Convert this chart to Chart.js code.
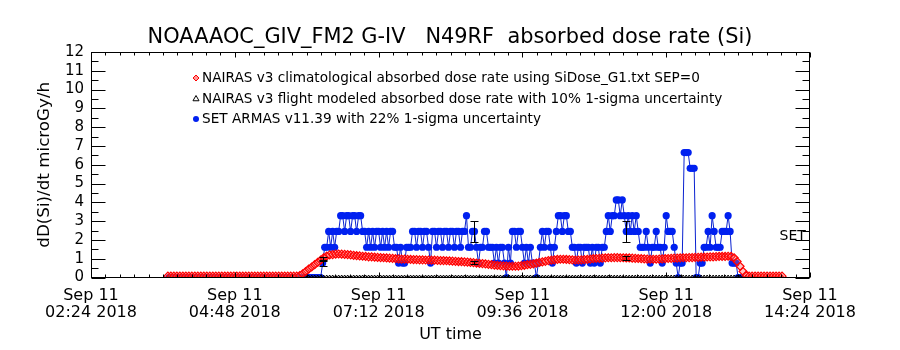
<!DOCTYPE html>
<html><head><meta charset="utf-8">
<script src="https://cdn.jsdelivr.net/npm/chart.js@4.4.1/dist/chart.umd.min.js"></script>
<style>html,body{margin:0;padding:0;background:#fff}canvas{display:block}</style>
</head><body>
<canvas id="c" width="900" height="350"></canvas>
<script>
// ---------------- DATA ----------------
const titleText = 'NOAAAOC_GIV_FM2 G-IV   N49RF  absorbed dose rate (Si)';
const yTitle = 'dD(Si)/dt microGy/h';
const xTitle = 'UT time';
const sideLabel = 'SET';
// x axis: minutes after Sep 11 02:24 UT
const xTickValues = [0, 144, 288, 432, 576, 720];
const xTickLabels = [
  ['Sep 11', '02:24 2018'], ['Sep 11', '04:48 2018'], ['Sep 11', '07:12 2018'],
  ['Sep 11', '09:36 2018'], ['Sep 11', '12:00 2018'], ['Sep 11', '14:24 2018']
];
const yMin = 0, yMax = 12;
const seriesLabels = [
  'NAIRAS v3 climatological absorbed dose rate using SiDose_G1.txt SEP=0',
  'NAIRAS v3 flight modeled absorbed dose rate with 10% 1-sigma uncertainty',
  'SET ARMAS v11.39 with 22% 1-sigma uncertainty'
];
// NAIRAS climatological (red), one value every 3 min starting at minute 77
const redStart = 77, redStep = 3;
const redValues = [
  0.07,0.07,0.07,0.07,0.07,0.07,0.07,0.07,0.07,0.07,0.07,
  0.07,0.07,0.07,0.07,0.07,0.07,0.07,0.07,0.07,0.07,0.07,
  0.07,0.07,0.07,0.07,0.07,0.07,0.07,0.07,0.07,0.07,0.07,
  0.07,0.07,0.07,0.07,0.07,0.07,0.07,0.07,0.07,0.07,0.07,
  0.10,0.20,0.32,0.45,0.56,0.68,0.80,0.92,1.05,1.14,1.20,
  1.22,1.24,1.25,1.24,1.23,1.22,1.20,1.18,1.16,
  1.15,1.13,1.12,1.10,1.10,1.08,1.07,1.06,1.05,1.04,1.03,1.02,1.00,0.99,
  0.98,0.98,0.97,0.96,0.95,0.95,0.94,0.94,0.93,0.93,0.92,0.92,0.91,0.90,0.90,0.89,0.88,
  0.87,0.86,0.85,0.84,0.83,0.82,0.80,0.79,0.77,0.75,0.74,
  0.72,0.70,0.68,0.66,0.64,0.63,0.62,0.61,0.60,0.60,
  0.60,0.61,0.63,0.65,0.68,0.70,0.73,0.76,0.80,
  0.83,0.86,0.90,0.92,0.94,0.96,0.97,0.97,0.96,0.95,0.94,
  0.93,0.93,0.94,0.95,0.96,0.98,1.00,1.01,1.02,1.03,
  1.04,1.05,1.05,1.06,1.06,1.05,1.05,1.04,1.04,1.03,1.02,1.01,1.00,0.99,0.98,
  0.97,0.97,0.97,0.98,0.99,1.00,1.01,1.02,1.03,1.03,1.04,1.05,1.05,1.06,1.06,
  1.07,1.07,1.08,1.08,1.09,1.10,1.10,1.11,1.12,1.12,1.12,
  1.13,1.12,1.05,0.85,0.60,0.32,0.12,
  0.07,0.07,0.07,0.07,0.07,0.07,0.07,0.07,0.07,0.07,0.07,0.07
];
// NAIRAS flight modeled (black), every 3 min starting at minute 77
const blackStart = 77, blackStep = 3;
const blackValues = [
  0,0,0,0,0,0,0,0,0,0,0,0,0,0,0,0,0,0,0,0,0,0,0,0,0,0,0,0,0,0,
  0,0,0,0,0,0,0,0,0,0,0,0,0,0,0,0,0,0,0,0,0,0,0,0,0,0,0,0,0,0,
  0,0,0,0,0,0,0,0,0,0,0,0,0,0,0,0,0,0,0,0,0,0,0,0,0,0,0,0,0,0,
  0,0,0,0,0,0,0,0,0,0,0,0,0,0,0,0,0,0,0,0,0,0,0,0,0,0,0,0,0,0,
  0,0,0,0,0,0,0,0,0,0,0,0,0,0,0,0,0,0,0,0,0,0,0,0,0,0,0,0,0,0,
  0,0,0,0,0,0,0,0,0,0,0,0,0,0,0,0,0,0,0,0,0,0,0,0,0,0,0,0,0,0,
  0,0,0,0,0,0,0,0,0,0,0,0,0,0,0,0,0,0,0,0,0,0,0,0,0,0
];
const blackErrTimes = [232, 384, 536];
const blackErrValues = [1.00, 0.80, 1.03];
const blackPct = 0.10;
// SET ARMAS (blue), every 2 min starting at minute 78
const blueStart = 78, blueStep = 2;
const blueValues = [
  0,0,0,0,0,0,0,0,0,0,0,
  0,0,0,0,0,0,0,0,0,0,0,
  0,0,0,0,0,0,0,0,0,0,0,
  0,0,0,0,0,0,0,0,0,0,0,
  0,0,0,0,0,0,0,0,0,0,0,
  0,0,0,0,0,0,0,0,0,0,0,
  0,0,0,0,0,0,0,0,0,0,0,
  0.77,1.61,1.61,2.45,1.61,2.45,1.61,2.45,2.45,3.29,3.29,2.45,3.29,3.29,2.45,3.29,3.29,2.45,3.29,3.29,
  2.45,2.45,1.61,2.45,1.61,2.45,1.61,2.45,2.45,1.61,2.45,1.61,2.45,1.61,2.45,2.45,
  1.61,1.61,0.77,1.61,0.77,0.77,1.61,1.61,1.61,
  2.45,2.45,1.61,2.45,2.45,1.61,2.45,2.45,
  1.61,0.77,2.45,2.45,1.61,2.45,2.45,1.61,2.45,2.45,1.61,2.45,2.45,1.61,2.45,2.45,1.61,2.45,2.45,
  3.29,1.61,1.61,2.45,2.45,1.61,0.77,1.61,1.61,2.45,2.45,1.61,
  1.61,1.61,0.77,1.61,0.77,1.61,1.61,
  0.77,0,1.61,0.77,2.45,2.45,1.61,2.45,2.45,1.61,0.77,1.61,0.77,1.61,0.77,0.77,0,0.77,
  1.61,2.45,1.61,2.45,2.45,1.61,0.77,1.61,2.45,3.29,3.29,2.45,3.29,3.29,2.45,2.45,1.61,
  1.61,0.77,1.61,1.61,0.77,1.61,1.61,1.61,0.77,1.61,0.77,1.61,1.61,0.77,1.61,1.61,
  2.45,3.29,2.45,3.29,3.29,4.13,4.13,3.29,4.13,3.29,2.45,3.29,2.45,3.29,2.45,3.29,2.45,1.61,
  1.61,1.61,2.45,1.61,0.77,1.61,1.61,2.45,1.61,1.61,0.77,1.61,3.29,2.45,2.45,2.45,
  1.61,0.77,0,0.77,0.77,6.65,6.65,6.65,5.81,5.81,5.81,0,0,
  0.77,0.77,1.61,1.61,2.45,1.61,3.29,2.45,1.61,1.61,1.61,2.45,2.45,2.45,3.29,2.45,0.77,0.77,0.77,0,0
];
const blueErrTimes = [232, 384, 536];
const bluePct = 0.22;

// ---------------- BUILD ----------------
const FONT = 'DejaVu Sans';
function fitSize(text, target) {
  const c = document.createElement('canvas').getContext('2d');
  c.font = '100px "' + FONT + '"';
  return 100 * target / c.measureText(text).width;
}
const titleSize = fitSize(titleText, 605);
const yTitleSize = fitSize(yTitle, 166);
const legendSize = fitSize(seriesLabels[1], 521);

const redData = redValues.map((v, i) => ({x: redStart + i * redStep, y: v}));
const blackData = blackValues.map((v, i) => ({x: blackStart + i * blackStep, y: v}))
  .concat(blackErrTimes.map((t, j) => ({x: t, y: blackErrValues[j]})));
const blueData = blueValues.map((v, i) => ({x: blueStart + i * blueStep, y: v}));

const legendRows = [78, 99, 119];

const framePlugin = {
  id: 'frame',
  afterDraw(chart) {
    const {ctx, chartArea: a, scales: {x, y}} = chart;
    ctx.save();
    ctx.strokeStyle = '#000';
    ctx.fillStyle = '#000';
    ctx.lineWidth = 1;
    const L = Math.round(a.left) + 0.5, R = Math.round(a.right) - 0.5;
    const T = Math.round(a.top) + 0.5, B = Math.round(a.bottom) - 0.5;
    const line = (x1, y1, x2, y2) => { ctx.beginPath(); ctx.moveTo(x1, y1); ctx.lineTo(x2, y2); ctx.stroke(); };
    ctx.strokeRect(L, T, R - L, B - T);
    const majorStep = xTickValues[1] - xTickValues[0];
    const nMinor = Math.round((x.max - x.min) / (majorStep / 10));
    for (let k = 0; k <= nMinor; k++) {
      const v = x.min + k * majorStep / 10;
      const px = Math.round(x.getPixelForValue(v)) + 0.5;
      const len = (k % 10 === 0) ? 5 : 3;
      line(px, B, px, B - len);
      line(px, T, px, T + len);
    }
    for (let k = 0; k <= (yMax - yMin) * 2; k++) {
      const v = yMin + k * 0.5;
      const py = Math.round(y.getPixelForValue(v)) + 0.5;
      const len = (k % 2 === 0) ? 14 : 7;
      line(L, py, L + len, py);
      line(R, py, R - len, py);
    }
    const errBar = (t, lo, hi) => {
      const px = Math.round(x.getPixelForValue(t)) + 0.5;
      const p1 = Math.round(y.getPixelForValue(lo)) + 0.5;
      const p2 = Math.round(y.getPixelForValue(hi)) + 0.5;
      line(px, p1, px, p2);
      line(px - 4, p1, px + 4, p1);
      line(px - 4, p2, px + 4, p2);
    };
    blueErrTimes.forEach(t => {
      const v = blueValues[Math.round((t - blueStart) / blueStep)];
      errBar(t, v * (1 - bluePct), v * (1 + bluePct));
    });
    blackErrTimes.forEach((t, j) => {
      const v = blackErrValues[j];
      errBar(t, v * (1 - blackPct), v * (1 + blackPct));
    });
    ctx.font = legendSize + 'px "' + FONT + '"';
    ctx.textBaseline = 'middle';
    ctx.textAlign = 'left';
    chart.data.datasets.forEach((ds, i) => {
      const yy = legendRows[i];
      ctx.save();
      ctx.fillStyle = ds.legendFill;
      ctx.strokeStyle = ds.pointBorderColor;
      ctx.lineWidth = 1;
      Chart.helpers.drawPoint(ctx, {pointStyle: ds.pointStyle, radius: ds.legendRadius, borderWidth: ds.legendBorder, rotation: 0}, 196, yy);
      ctx.restore();
      ctx.fillStyle = '#000';
      ctx.fillText(ds.label, 202, yy);
    });
    ctx.font = '14px "' + FONT + '"';
    ctx.fillText(sideLabel, R - 30, y.getPixelForValue(2.2));
    ctx.restore();
  }
};

new Chart(document.getElementById('c'), {
  type: 'line',
  data: {
    datasets: [
      {label: seriesLabels[0], data: redData, showLine: false, pointStyle: 'rectRot', pointRadius: 4,
       pointBorderColor: '#ff0000', pointBackgroundColor: 'rgba(255,90,90,0.35)', pointBorderWidth: 1.2,
       borderColor: '#ff0000', legendFill: 'rgba(255,150,150,1)', legendRadius: 3, legendBorder: 1},
      {label: seriesLabels[1], data: blackData, showLine: false, pointStyle: 'triangle', pointRadius: 2.5,
       pointBorderColor: '#000000', pointBackgroundColor: 'rgba(0,0,0,0)', pointBorderWidth: 1,
       borderColor: '#000000', legendFill: 'rgba(0,0,0,0)', legendRadius: 3.5, legendBorder: 1},
      {label: seriesLabels[2], data: blueData, showLine: true, borderColor: '#0a22d0', borderWidth: 1,
       pointStyle: 'circle', pointRadius: 3.6, pointBorderWidth: 0, pointBorderColor: '#0020f0',
       pointBackgroundColor: '#0020f0', tension: 0, legendFill: '#0020f0', legendRadius: 3, legendBorder: 0}
    ]
  },
  options: {
    responsive: false, animation: false, devicePixelRatio: 1,
    layout: {padding: {left: 0, right: 0, top: 0, bottom: 0}},
    plugins: {
      legend: {display: false}, tooltip: {enabled: false},
      title: {display: true, text: titleText, color: '#000',
        font: {family: FONT, size: titleSize, weight: 'normal', lineHeight: 1.2},
        padding: {top: 25, bottom: Math.max(0, 52 - 25 - titleSize * 1.2)}}
    },
    scales: {
      x: {type: 'linear', min: xTickValues[0], max: xTickValues[xTickValues.length - 1],
        grid: {display: false, drawTicks: false}, border: {display: false},
        afterFit(s) { s.height = 72.5; },
        ticks: {stepSize: xTickValues[1] - xTickValues[0], autoSkip: false, maxRotation: 0, minRotation: 0,
          padding: 10, color: '#000', font: {family: FONT, size: 16, lineHeight: 17 / 16},
          callback: (v, i) => xTickLabels[i]},
        title: {display: true, text: xTitle, color: '#000', font: {family: FONT, size: 16, lineHeight: 1.2},
          padding: {top: 0, bottom: 6}}},
      y: {type: 'linear', min: yMin, max: yMax,
        grid: {display: false, drawTicks: false}, border: {display: false},
        afterFit(s) { s.width = 91; },
        ticks: {stepSize: 1, autoSkip: false, padding: 7, color: '#000', font: {family: FONT, size: 15}},
        title: {display: true, text: yTitle, color: '#000', font: {family: FONT, size: yTitleSize, lineHeight: 1.2},
          padding: {top: 35 - (yTitleSize * 1.2 / 2 - 10), bottom: 0}}},
      yRight: {type: 'linear', position: 'right', min: yMin, max: yMax,
        grid: {display: false, drawTicks: false}, border: {display: false},
        ticks: {display: false},
        afterFit(s) { s.width = 90; }}
    }
  },
  plugins: [framePlugin]
});
</script>
</body></html>
